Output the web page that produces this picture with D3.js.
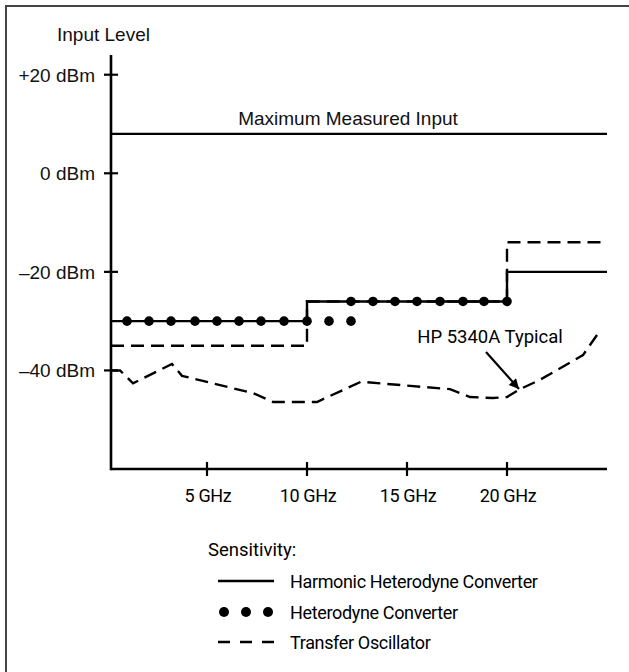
<!DOCTYPE html>
<html lang="en">
  <head>
    <meta charset="utf-8">
    <title>Input sensitivity</title>
    <script src="https://d3js.org/d3.v7.min.js"></script>
    <style>
      body { margin: 0; background: #fff; }
      .wide { font-family: "Liberation Sans", Arial, sans-serif; font-size: 19px; fill: #111; }
      .narrow { font-family: Roboto, "Liberation Sans", sans-serif; font-size: 18.5px; fill: #000; }
      .tight { font-size: 18px; letter-spacing: -0.35px; }
    </style>
  </head>

  <body>
  <script>

// chart values

  var freqTicks = [5, 10, 15, 20];
  var freqLabels = ["5 GHz", "10 GHz", "15 GHz", "20 GHz"];
  var levelTicks = [20, 0, -20, -40];
  var levelLabels = ["+20 dBm", "0 dBm", "\u201320 dBm", "\u201340 dBm"];

  var maxInput = 8;   // dBm

  // step curves (value holds until next breakpoint)
  var harmonicFreq = [0.2, 10, 20, 25];
  var harmonicLevel = [-30, -26, -20, -20];
  var transferFreq = [0.2, 10, 20, 25];
  var transferLevel = [-35, -26, -14, -14];

  // heterodyne converter dots
  var heteroFreq = [1.0, 2.1, 3.2, 4.4, 5.5, 6.6, 7.7, 8.85, 10.0, 11.1, 12.2,
                    12.2, 13.3, 14.4, 15.5, 16.65, 17.8, 18.85, 20.0];
  var heteroLevel = [-30, -30, -30, -30, -30, -30, -30, -30, -30, -30, -30,
                     -26, -26, -26, -26, -26, -26, -26, -26];

  // HP 5340A typical
  var typFreq = [0.2, 0.65, 1.3, 3.25, 3.75, 7.3, 8.3, 10.5, 12.7, 17.15, 18.15, 19.3, 20.0, 20.65, 21.65, 23.8, 24.5];
  var typLevel = [-40, -40, -42.6, -38.7, -41.1, -44.6, -46.4, -46.4, -42.3, -43.8, -45.4, -45.6, -45.4, -43.8, -41.9, -36.9, -32.8];

  var w = 629;
  var h = 672;

  var svg = d3.select("body")
    .append("svg")
      .attr("width", w)
      .attr("height", h);

  // frame (runs off the right and bottom edge)
  svg.append("rect")
      .attr("x", 6)
      .attr("y", 6)
      .attr("width", 700)
      .attr("height", 700)
      .attr("fill", "none")
      .attr("stroke", "#444")
      .attr("stroke-width", 2);

  var xScale = d3.scaleLinear()
      .domain([0, 25])
      .range([107, 607]);

  var yScale = d3.scaleLinear()
      .domain([-60, 24])
      .range([469, 55]);

  var x0 = xScale(0.2);

  // axes
  svg.append("line")
      .attr("x1", x0).attr("x2", x0)
      .attr("y1", yScale(24)).attr("y2", yScale(-60) + 1.3)
      .attr("stroke", "#000").attr("stroke-width", 2.6);

  svg.append("line")
      .attr("x1", x0).attr("x2", xScale(25))
      .attr("y1", yScale(-60)).attr("y2", yScale(-60))
      .attr("stroke", "#000").attr("stroke-width", 2.6);

  svg.selectAll(".ytick")
      .data(levelTicks)
    .enter().append("line")
      .attr("x1", x0 - 7).attr("x2", x0 + 7)
      .attr("y1", d => yScale(d)).attr("y2", d => yScale(d))
      .attr("stroke", "#000").attr("stroke-width", 2.2);

  svg.selectAll(".ylab")
      .data(levelTicks)
    .enter().append("text")
      .attr("class", "wide")
      .attr("x", 95)
      .attr("y", d => yScale(d) + 7)
      .attr("text-anchor", "end")
      .text((d, i) => levelLabels[i]);

  svg.selectAll(".xtick")
      .data(freqTicks)
    .enter().append("line")
      .attr("x1", d => xScale(d)).attr("x2", d => xScale(d))
      .attr("y1", yScale(-60) - 7).attr("y2", yScale(-60) + 7)
      .attr("stroke", "#000").attr("stroke-width", 2.2);

  svg.selectAll(".xlab")
      .data(freqTicks)
    .enter().append("text")
      .attr("class", "narrow tight")
      .attr("x", d => xScale(d) + 1)
      .attr("y", 502)
      .attr("text-anchor", "middle")
      .text((d, i) => freqLabels[i]);

  svg.append("text")
      .attr("class", "wide")
      .attr("x", 57)
      .attr("y", 41)
      .text("Input Level");

  // maximum measured input
  svg.append("line")
      .attr("x1", x0).attr("x2", xScale(25))
      .attr("y1", yScale(maxInput)).attr("y2", yScale(maxInput))
      .attr("stroke", "#000").attr("stroke-width", 2.4);

  svg.append("text")
      .attr("class", "wide")
      .attr("x", 348)
      .attr("y", 125)
      .attr("text-anchor", "middle")
      .attr("font-size", 19.6)
      .text("Maximum Measured Input");

  var stepLine = d3.line()
      .x(d => xScale(d[0]))
      .y(d => yScale(d[1]))
      .curve(d3.curveStepAfter);

  var plainLine = d3.line()
      .x(d => xScale(d[0]))
      .y(d => yScale(d[1]));

  // transfer oscillator (under the solid one)
  svg.append("path")
      .datum(d3.zip(transferFreq, transferLevel))
      .attr("d", stepLine)
      .attr("fill", "none")
      .attr("stroke", "#000")
      .attr("stroke-width", 2.4)
      .attr("stroke-dasharray", "13,7");

  svg.append("path")
      .datum(d3.zip(harmonicFreq, harmonicLevel))
      .attr("d", stepLine)
      .attr("fill", "none")
      .attr("stroke", "#000")
      .attr("stroke-width", 2.4);

  svg.selectAll(".dot")
      .data(d3.zip(heteroFreq, heteroLevel))
    .enter().append("circle")
      .attr("cx", d => xScale(d[0]))
      .attr("cy", d => yScale(d[1]))
      .attr("r", 4.8)
      .attr("fill", "#000");

  svg.append("path")
      .datum(d3.zip(typFreq, typLevel))
      .attr("d", plainLine)
      .attr("fill", "none")
      .attr("stroke", "#000")
      .attr("stroke-width", 2.4)
      .attr("stroke-dasharray", "13,7");

  // label + arrow
  svg.append("defs").append("marker")
      .attr("id", "head")
      .attr("viewBox", "0 0 10 10")
      .attr("refX", 10).attr("refY", 5)
      .attr("markerWidth", 5).attr("markerHeight", 4.5)
      .attr("markerUnits", "strokeWidth")
      .attr("orient", "auto")
    .append("path")
      .attr("d", "M0,0 L10,5 L0,10 z")
      .attr("fill", "#000");

  svg.append("text")
      .attr("class", "narrow")
      .attr("x", 490)
      .attr("y", 343)
      .attr("text-anchor", "middle")
      .text("HP 5340A Typical");

  svg.append("line")
      .attr("x1", 486).attr("y1", 352)
      .attr("x2", 519).attr("y2", 389)
      .attr("stroke", "#000").attr("stroke-width", 2.2)
      .attr("marker-end", "url(#head)");

// legend

  svg.append("text")
      .attr("class", "narrow")
      .attr("x", 208)
      .attr("y", 556)
      .text("Sensitivity:");

  var legendRows = ["Harmonic Heterodyne Converter", "Heterodyne Converter", "Transfer Oscillator"];
  var legendY = [581, 612, 642];

  svg.append("line")
      .attr("x1", 218).attr("x2", 274)
      .attr("y1", legendY[0]).attr("y2", legendY[0])
      .attr("stroke", "#000").attr("stroke-width", 2.4);

  svg.selectAll(".ldot")
      .data([224, 246, 268])
    .enter().append("circle")
      .attr("cx", d => d)
      .attr("cy", legendY[1])
      .attr("r", 5)
      .attr("fill", "#000");

  svg.append("line")
      .attr("x1", 218).attr("x2", 274)
      .attr("y1", legendY[2]).attr("y2", legendY[2])
      .attr("stroke", "#000").attr("stroke-width", 2.4)
      .attr("stroke-dasharray", "12,10");

  svg.selectAll(".ltext")
      .data(legendRows)
    .enter().append("text")
      .attr("class", "narrow tight")
      .attr("x", 290)
      .attr("y", (d, i) => legendY[i] + 7)
      .text(d => d);

  </script>
  </body>

</html>
